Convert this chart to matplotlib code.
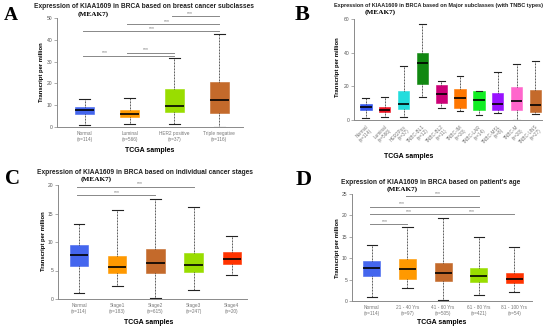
import matplotlib
matplotlib.use("Agg")
import matplotlib.pyplot as plt

# ---- panel A: breast cancer subclasses
A_LABELS = ["Normal\n(n=114)", "Luminal\n(n=566)", "HER2 positive\n(n=37)", "Triple negative\n(n=116)"]
A_WHISLO = [1.0, 1.3, 1.3, 0.2]
A_Q1 = [5.8, 4.5, 6.8, 6.5]
A_MED = [7.8, 6.0, 9.7, 12.2]
A_Q3 = [9.3, 7.6, 17.3, 20.5]
A_WHISHI = [13.0, 13.5, 31.8, 42.8]
A_COLORS = ["#4466EE", "#FF9900", "#99DD00", "#C46A2B"]
# (start group, end group, height, label x)
A_SIG = [(1, 3, 32.7, 1.46), (2, 3, 34.1, 2.37), (1, 4, 43.9, 2.50),
         (2, 4, 47.2, 2.83), (3, 4, 50.8, 3.34)]

# ---- panel B: major subclasses with TNBC types
B_LABELS = ["Normal\n(n=114)", "Luminal\n(n=566)", "HER2Pos\n(n=37)", "TNBC-BL1\n(n=12)",
            "TNBC-BL2\n(n=11)", "TNBC-IM\n(n=20)", "TNBC-LAR\n(n=14)", "TNBC-MSL\n(n=8)",
            "TNBC-M\n(n=20)", "TNBC-UNS\n(n=27)"]
B_WHISLO = [1.2, 1.5, 1.8, 13.5, 7.0, 5.5, 3.0, 4.0, 0.2, 3.5]
B_Q1 = [5.7, 4.7, 6.8, 21.5, 10.0, 7.0, 6.0, 6.0, 6.0, 5.0]
B_MED = [7.9, 6.2, 9.8, 34.0, 15.5, 12.8, 12.0, 9.5, 11.0, 8.8]
B_Q3 = [9.7, 7.5, 17.2, 40.0, 21.0, 18.5, 17.0, 16.3, 19.5, 18.0]
B_WHISHI = [13.2, 13.5, 31.8, 57.0, 23.2, 26.0, 17.5, 28.3, 33.0, 35.2]
B_COLORS = ["#3355EE", "#EE1122", "#22DDDD", "#118811", "#CC0077",
            "#FF7700", "#11EE22", "#9911FF", "#FF66CC", "#C46A2B"]

# ---- panel C: cancer stages
C_LABELS = ["Normal\n(n=114)", "Stage1\n(n=183)", "Stage2\n(n=615)", "Stage3\n(n=247)", "Stage4\n(n=20)"]
C_WHISLO = [1.0, 2.3, 0.2, 1.5, 4.2]
C_Q1 = [5.8, 4.6, 4.6, 4.7, 6.2]
C_MED = [7.8, 5.6, 6.3, 6.0, 7.1]
C_Q3 = [9.4, 7.6, 8.7, 8.1, 8.2]
C_WHISHI = [13.1, 15.6, 17.6, 16.2, 11.1]
C_COLORS = ["#4466EE", "#FF9900", "#C46A2B", "#99DD00", "#FF3300"]
C_SIG = [(1, 3, 18.2, 2.0), (1, 4, 19.7, 2.6)]

# ---- panel D: patient age
D_LABELS = ["Normal\n(n=114)", "21 - 40 Yrs\n(n=97)", "41 - 60 Yrs\n(n=505)",
            "61 - 80 Yrs\n(n=421)", "81 - 100 Yrs\n(n=54)"]
D_WHISLO = [1.0, 3.0, 0.2, 1.3, 2.1]
D_Q1 = [5.8, 5.2, 4.7, 4.5, 4.2]
D_MED = [7.7, 7.4, 6.5, 5.8, 5.1]
D_Q3 = [9.4, 9.7, 8.9, 7.6, 6.5]
D_WHISHI = [13.0, 17.2, 19.5, 14.9, 12.6]
D_COLORS = ["#4466EE", "#FF9900", "#C46A2B", "#99DD00", "#FF3300"]
D_SIG = [(1, 2, 17.9, 1.37), (1, 5, 20.3, 2.04), (1, 5, 20.3, 3.82),
         (1, 4, 22.0, 1.85), (2, 4, 24.5, 2.86)]

W, H = 550, 331
fig = plt.figure(figsize=(5.5, 3.31), dpi=100)
plt.rcParams["font.family"] = ["Liberation Sans", "DejaVu Sans"]

GRAY = "#8a8a8a"


def px_axes(left, right, top, bottom):
    return fig.add_axes([left / W, 1 - bottom / H, (right - left) / W, (bottom - top) / H])


def draw_panel(ax, labels, lo, q1, med, q3, hi, colors, ylim, step, xlim, width,
               sig=None, rot=False):
    stats = [dict(whislo=a, q1=b, med=c, q3=d, whishi=e, fliers=[])
             for a, b, c, d, e in zip(lo, q1, med, q3, hi)]
    pos = list(range(1, len(stats) + 1))
    bp = ax.bxp(stats, positions=pos, widths=width, patch_artist=True, showfliers=False,
                whiskerprops=dict(color="#222222", lw=0.6, linestyle=(0, (1, 0.8))),
                capprops=dict(color="#222222", lw=0.8),
                medianprops=dict(color="black", lw=1.2),
                boxprops=dict(lw=0.4))
    for box, col in zip(bp["boxes"], colors):
        box.set_facecolor(col)
        box.set_edgecolor(col)
    for cap in bp["caps"]:
        x0, x1 = cap.get_xdata()
        c = (x0 + x1) / 2
        cap.set_xdata([c - width * 0.3, c + width * 0.3])
    ax.set_ylim(*ylim)
    ax.set_xlim(*xlim)
    ax.set_yticks(range(0, int(ylim[1]) + 1, step))
    ax.tick_params(axis="y", labelsize=3.6, labelcolor="#555555", length=2, width=0.5,
                   color=GRAY, pad=1.5)
    ax.tick_params(axis="x", length=0, labelsize=3.4, labelcolor="#777777", pad=3)
    ax.set_xticks(pos)
    if rot:
        ax.set_xticklabels(labels, rotation=45, ha="right", rotation_mode="anchor",
                           fontsize=3.4, linespacing=1.1)
    else:
        ax.set_xticklabels(labels, fontsize=3.4, linespacing=1.3)
    for s in ["top", "right"]:
        ax.spines[s].set_visible(False)
    for s in ["left", "bottom"]:
        ax.spines[s].set_color(GRAY)
        ax.spines[s].set_linewidth(0.7)
    if sig:
        drawn = set()
        for g0, g1, y, lx in sig:
            if (g0, g1, y) not in drawn:
                ax.plot([g0 - 0.05, g1], [y, y], color="#888888", lw=0.7, clip_on=False)
                drawn.add((g0, g1, y))
            ax.text(lx, y + ylim[1] * 0.004, "***", fontsize=3.6, color="#777777",
                    ha="center", va="bottom", clip_on=False)


def titles(cx, y1, t, tsize, mx, y2, letter, lx, ly, lsize):
    fig.text(cx / W, 1 - y1 / H, t, ha="center", va="center", fontsize=tsize,
             fontweight="bold", color="#222222")
    fig.text(mx / W, 1 - y2 / H, "(MEAK7)", ha="center", va="center", fontsize=5.2,
             fontweight="bold", family="Liberation Serif")
    fig.text(lx / W, 1 - ly / H, letter, ha="center", va="center", fontsize=lsize,
             fontweight="bold", family="Liberation Serif")


def axis_labels(yx, yy, tx, ty):
    fig.text(yx / W, 1 - yy / H, "Transcript per million", rotation=90, ha="center",
             va="center", fontsize=4.2, fontweight="bold")
    fig.text(tx / W, 1 - ty / H, "TCGA samples", ha="center", va="center",
             fontsize=5.0, fontweight="bold")


# A
axA = px_axes(57, 243, 18, 127)
draw_panel(axA, A_LABELS, A_WHISLO, A_Q1, A_MED, A_Q3, A_WHISHI, A_COLORS,
           (0, 50), 10, (0.38, 4.53), 0.42, sig=A_SIG)
titles(144, 6, "Expression of KIAA1609 in BRCA based on breast cancer subclasses", 4.75,
       93, 14, "A", 11, 16, 14)
axis_labels(42, 72, 150, 151)

# B
axB = px_axes(354, 542, 19, 120)
draw_panel(axB, B_LABELS, B_WHISLO, B_Q1, B_MED, B_Q3, B_WHISHI, B_COLORS,
           (0, 60), 20, (0.37, 10.35), 0.6, rot=True)
titles(439, 6, "Expression of KIAA1609 in BRCA based on Major subclasses (with TNBC types)", 3.95,
       380, 12, "B", 302, 15, 16)
axis_labels(337, 67, 409, 156)

# C
axC = px_axes(58, 247, 185, 299)
draw_panel(axC, C_LABELS, C_WHISLO, C_Q1, C_MED, C_Q3, C_WHISHI, C_COLORS,
           (0, 20), 5, (0.45, 5.4), 0.48, sig=C_SIG)
titles(145, 172, "Expression of KIAA1609 in BRCA based on individual cancer stages", 4.75,
       96, 179, "C", 12, 179, 15)
axis_labels(43, 241, 149, 322)

# D
axD = px_axes(352, 532, 194, 301)
draw_panel(axD, D_LABELS, D_WHISLO, D_Q1, D_MED, D_Q3, D_WHISHI, D_COLORS,
           (0, 25), 5, (0.44, 5.5), 0.48, sig=D_SIG)
titles(431, 183, "Expression of KIAA1609 in BRCA based on patient's age", 4.75,
       402, 189, "D", 304, 180, 16)
axis_labels(337, 248, 442, 323)

fig.savefig("out.png", dpi=100)
